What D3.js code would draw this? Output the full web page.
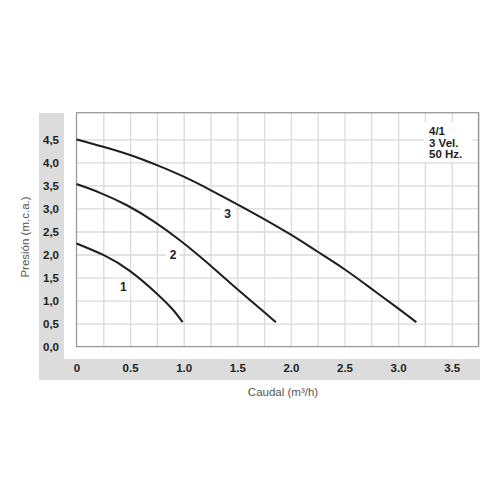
<!DOCTYPE html>
<html><head><meta charset="utf-8">
<script src="https://cdn.jsdelivr.net/npm/d3@7"></script>
<style>
body{margin:0;background:#fff;}
svg{display:block;font-family:"Liberation Sans",Arial,Helvetica,sans-serif;}
</style></head>
<body><svg id="c" width="500" height="500"></svg>
<script>
// Data
const curve1 = [[0,2.24],[0.25,1.99],[0.5,1.64],[0.75,1.15],[0.9,0.80],[0.99,0.53]];
const curve2 = [[0,3.53],[0.22,3.34],[0.47,3.07],[0.72,2.72],[0.97,2.30],[1.22,1.82],[1.48,1.29],[1.72,0.81],[1.86,0.53]];
const curve3 = [[0,4.50],[0.25,4.34],[0.5,4.16],[0.75,3.94],[1.0,3.69],[1.25,3.40],[1.5,3.09],[1.75,2.77],[2.0,2.43],[2.25,2.06],[2.5,1.68],[2.75,1.26],[3.0,0.83],[3.17,0.53]];
const curveLabels = ["1","2","3"];
const labelPos = [[0.437,1.30],[0.90,2.00],[1.41,2.88]];
const xTicks = [0,0.5,1.0,1.5,2.0,2.5,3.0,3.5];
const xTickLabels = ["0","0.5","1.0","1.5","2.0","2.5","3.0","3.5"];
const yTicks = [0,0.5,1.0,1.5,2.0,2.5,3.0,3.5,4.0,4.5];
const yTickLabels = ["0,0","0,5","1,0","1,5","2,0","2,5","3,0","3,5","4,0","4,5"];
const xGrid = d3.range(0.25, 3.751, 0.25);
const infoLines = ["4/1","3 Vel.","50 Hz."];
const xTitle = "Caudal (m³/h)";
const yTitle = "Presión (m.c.a.)";

const svg = d3.select("#c");
const L = 76.5, R = 478.5, T = 112.7, B = 346.6;
const x = d3.scaleLinear().domain([0,3.75]).range([L,R]);
const y = d3.scaleLinear().domain([0,5.08]).range([B,T]);

// gray bands
svg.append("rect").attr("x",39).attr("y",113).attr("width",25).attr("height",267).attr("fill","#dcdcdc");
svg.append("rect").attr("x",39).attr("y",359).attr("width",441).attr("height",21).attr("fill","#dcdcdc");

// grid
const g = svg.append("g");
g.append("g").attr("transform",`translate(0,${B})`)
  .call(d3.axisBottom(x).tickValues(xGrid).tickSize(-(B-T)).tickFormat(""))
  .call(s=>{s.select(".domain").remove(); s.selectAll("line").attr("stroke","#dadada").attr("stroke-width",1.3);});
g.append("g").attr("transform",`translate(${L},0)`)
  .call(d3.axisLeft(y).tickValues(yTicks.slice(1)).tickSize(-(R-L)).tickFormat(""))
  .call(s=>{s.select(".domain").remove(); s.selectAll("line").attr("stroke","#dadada").attr("stroke-width",1.3);});
// border
svg.append("rect").attr("x",L).attr("y",T).attr("width",R-L).attr("height",B-T)
  .attr("fill","none").attr("stroke","#9a9a9a").attr("stroke-width",1.3);

// axis labels
svg.append("g").attr("transform","translate(51,0)")
  .call(d3.axisLeft(y).tickValues(yTicks).tickSize(0).tickPadding(0).tickFormat((d,i)=>yTickLabels[i]))
  .call(s=>{s.select(".domain").remove(); s.selectAll("text").attr("text-anchor","middle").attr("font-size",11.5).attr("font-weight","bold").attr("fill","#222").attr("font-family","Liberation Sans, Arial, sans-serif");});
svg.append("g").attr("transform","translate(0,364)")
  .call(d3.axisBottom(x).tickValues(xTicks).tickSize(0).tickPadding(0).tickFormat((d,i)=>xTickLabels[i]))
  .call(s=>{s.select(".domain").remove(); s.selectAll("text").attr("font-size",11.5).attr("font-weight","bold").attr("fill","#222").attr("font-family","Liberation Sans, Arial, sans-serif");});

// curves
const line = d3.line().x(d=>x(d[0])).y(d=>y(d[1])).curve(d3.curveNatural);
[curve1,curve2,curve3].forEach(c=>{
  svg.append("path").datum(c).attr("d",line).attr("fill","none").attr("stroke","#1e1e1e").attr("stroke-width",2);
});

// curve labels with white background
labelPos.forEach((p,i)=>{
  svg.append("rect").attr("x",x(p[0])-7).attr("y",y(p[1])-8).attr("width",14).attr("height",16).attr("fill","#fff");
  svg.append("text").attr("x",x(p[0])).attr("y",y(p[1])+4.5).attr("text-anchor","middle")
    .attr("font-size",12).attr("font-weight","bold").attr("fill","#1e1e1e").text(curveLabels[i]);
});

// info box
svg.append("rect").attr("x",424).attr("y",122).attr("width",48).attr("height",40).attr("fill","#fff");
infoLines.forEach((t,i)=>{
  svg.append("text").attr("x",429).attr("y",135+i*11.7).attr("font-size",11.5).attr("font-weight","bold")
    .attr("fill","#1e1e1e").text(t);
});

// titles
svg.append("text").attr("x",283).attr("y",396).attr("text-anchor","middle").attr("font-size",11.5).attr("fill","#555").text(xTitle);
svg.append("text").attr("transform","translate(29,237) rotate(-90)").attr("text-anchor","middle").attr("font-size",11.5).attr("fill","#555").text(yTitle);
</script></body></html>
